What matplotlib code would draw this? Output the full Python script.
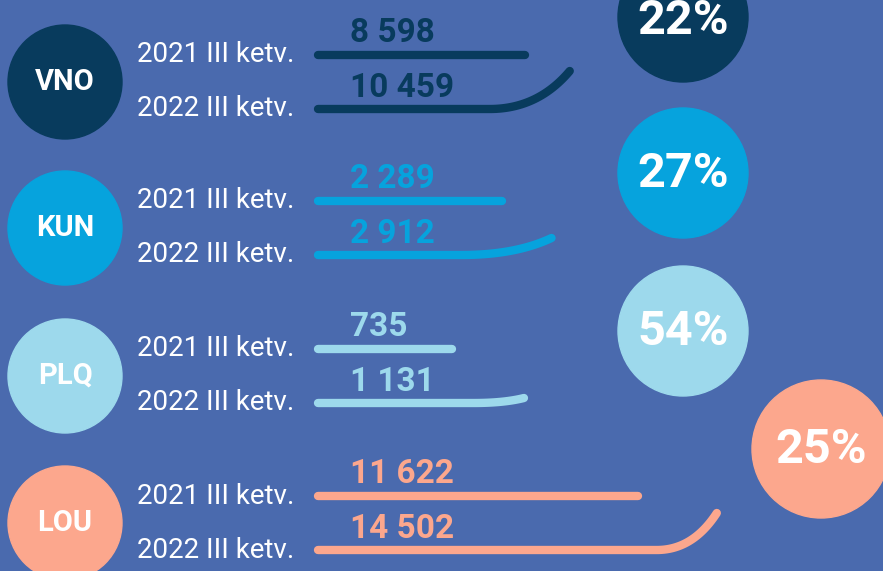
import numpy as np
import matplotlib
matplotlib.use("Agg")
import matplotlib.pyplot as plt
from matplotlib.patches import Circle

# data
airports = ["VNO", "KUN", "PLQ", "LOU"]
periods = ["2021 III ketv.", "2022 III ketv."]
pax_2021 = [8598, 2289, 735, 11622]
pax_2022 = [10459, 2912, 1131, 14502]
growth_pct = [22, 27, 54, 25]

# style
BG = "#4a6aae"
colors = ["#083b5d", "#06a3dd", "#9dd9ec", "#fca78d"]
row_y = [82, 228, 376, 523]          # circle centre of each group (px)
bar_scale = [0.02407, 0.0802, 0.1821, 0.0275]   # px per passenger, per group
curl_w = [80, 90, 50, 60]
curl_rise = [38, 17, 5, 37]
pct_pos = [(683, 17), (683, 173), (683, 331), (821, 449)]
pct_text_dy = [4, 1, 1, 1]
pct_r = [65, 65, 65, 69]
X0 = 318

plt.rcParams['font.family'] = ['Roboto', 'DejaVu Sans']

fig = plt.figure(figsize=(8.83, 5.71), dpi=100)
fig.patch.set_facecolor(BG)
ax = fig.add_axes([0, 0, 1, 1])
ax.set_facecolor(BG)
ax.set_xlim(0, 883)
ax.set_ylim(571, 0)
ax.axis("off")


def fmt(v):
    return f"{v:,}".replace(",", " ")


for i, name in enumerate(airports):
    c = colors[i]
    yc = row_y[i]
    # airport badge
    ax.add_patch(Circle((65, yc), 57, color=c, zorder=2))
    ax.text(65, yc, name, color="white", fontsize=21, fontweight="bold",
            ha="center", va="center", zorder=3)

    y21 = yc - 27
    y22 = yc + 27
    ax.text(137, y21, periods[0], color="white", fontsize=20, ha="left", va="center")
    ax.text(137, y22, periods[1], color="white", fontsize=20, ha="left", va="center")

    # 2021 bar
    s = bar_scale[i]
    ax.plot([X0, X0 + pax_2021[i] * s], [y21, y21], color=c, lw=6,
            solid_capstyle="round")
    # 2022 bar with curl at the end
    xe = X0 + pax_2022[i] * s
    w = curl_w[i]
    t = np.linspace(0, 1, 50)
    p0 = np.array([xe - w, y22])
    p1 = np.array([xe - 0.4 * w, y22])
    p2 = np.array([xe, y22 - curl_rise[i]])
    curve = ((1 - t) ** 2)[:, None] * p0 + (2 * (1 - t) * t)[:, None] * p1 + (t ** 2)[:, None] * p2
    xs = np.concatenate([[X0], curve[:, 0]])
    ys = np.concatenate([[y22], curve[:, 1]])
    ax.plot(xs, ys, color=c, lw=6, solid_capstyle="round", solid_joinstyle="round")

    ax.text(350, y21 - 22, fmt(pax_2021[i]), color=c, fontsize=24,
            fontweight="bold", ha="left", va="center")
    ax.text(350, y22 - 21, fmt(pax_2022[i]), color=c, fontsize=24,
            fontweight="bold", ha="left", va="center")

    # growth bubble
    px, py = pct_pos[i]
    ax.add_patch(Circle((px, py), pct_r[i], color=c, zorder=2))
    ax.text(px, py + pct_text_dy[i], f"{growth_pct[i]}%", color="white", fontsize=35,
            fontweight="bold", ha="center", va="center", zorder=3)

fig.savefig("out.png", dpi=100, facecolor=BG)
